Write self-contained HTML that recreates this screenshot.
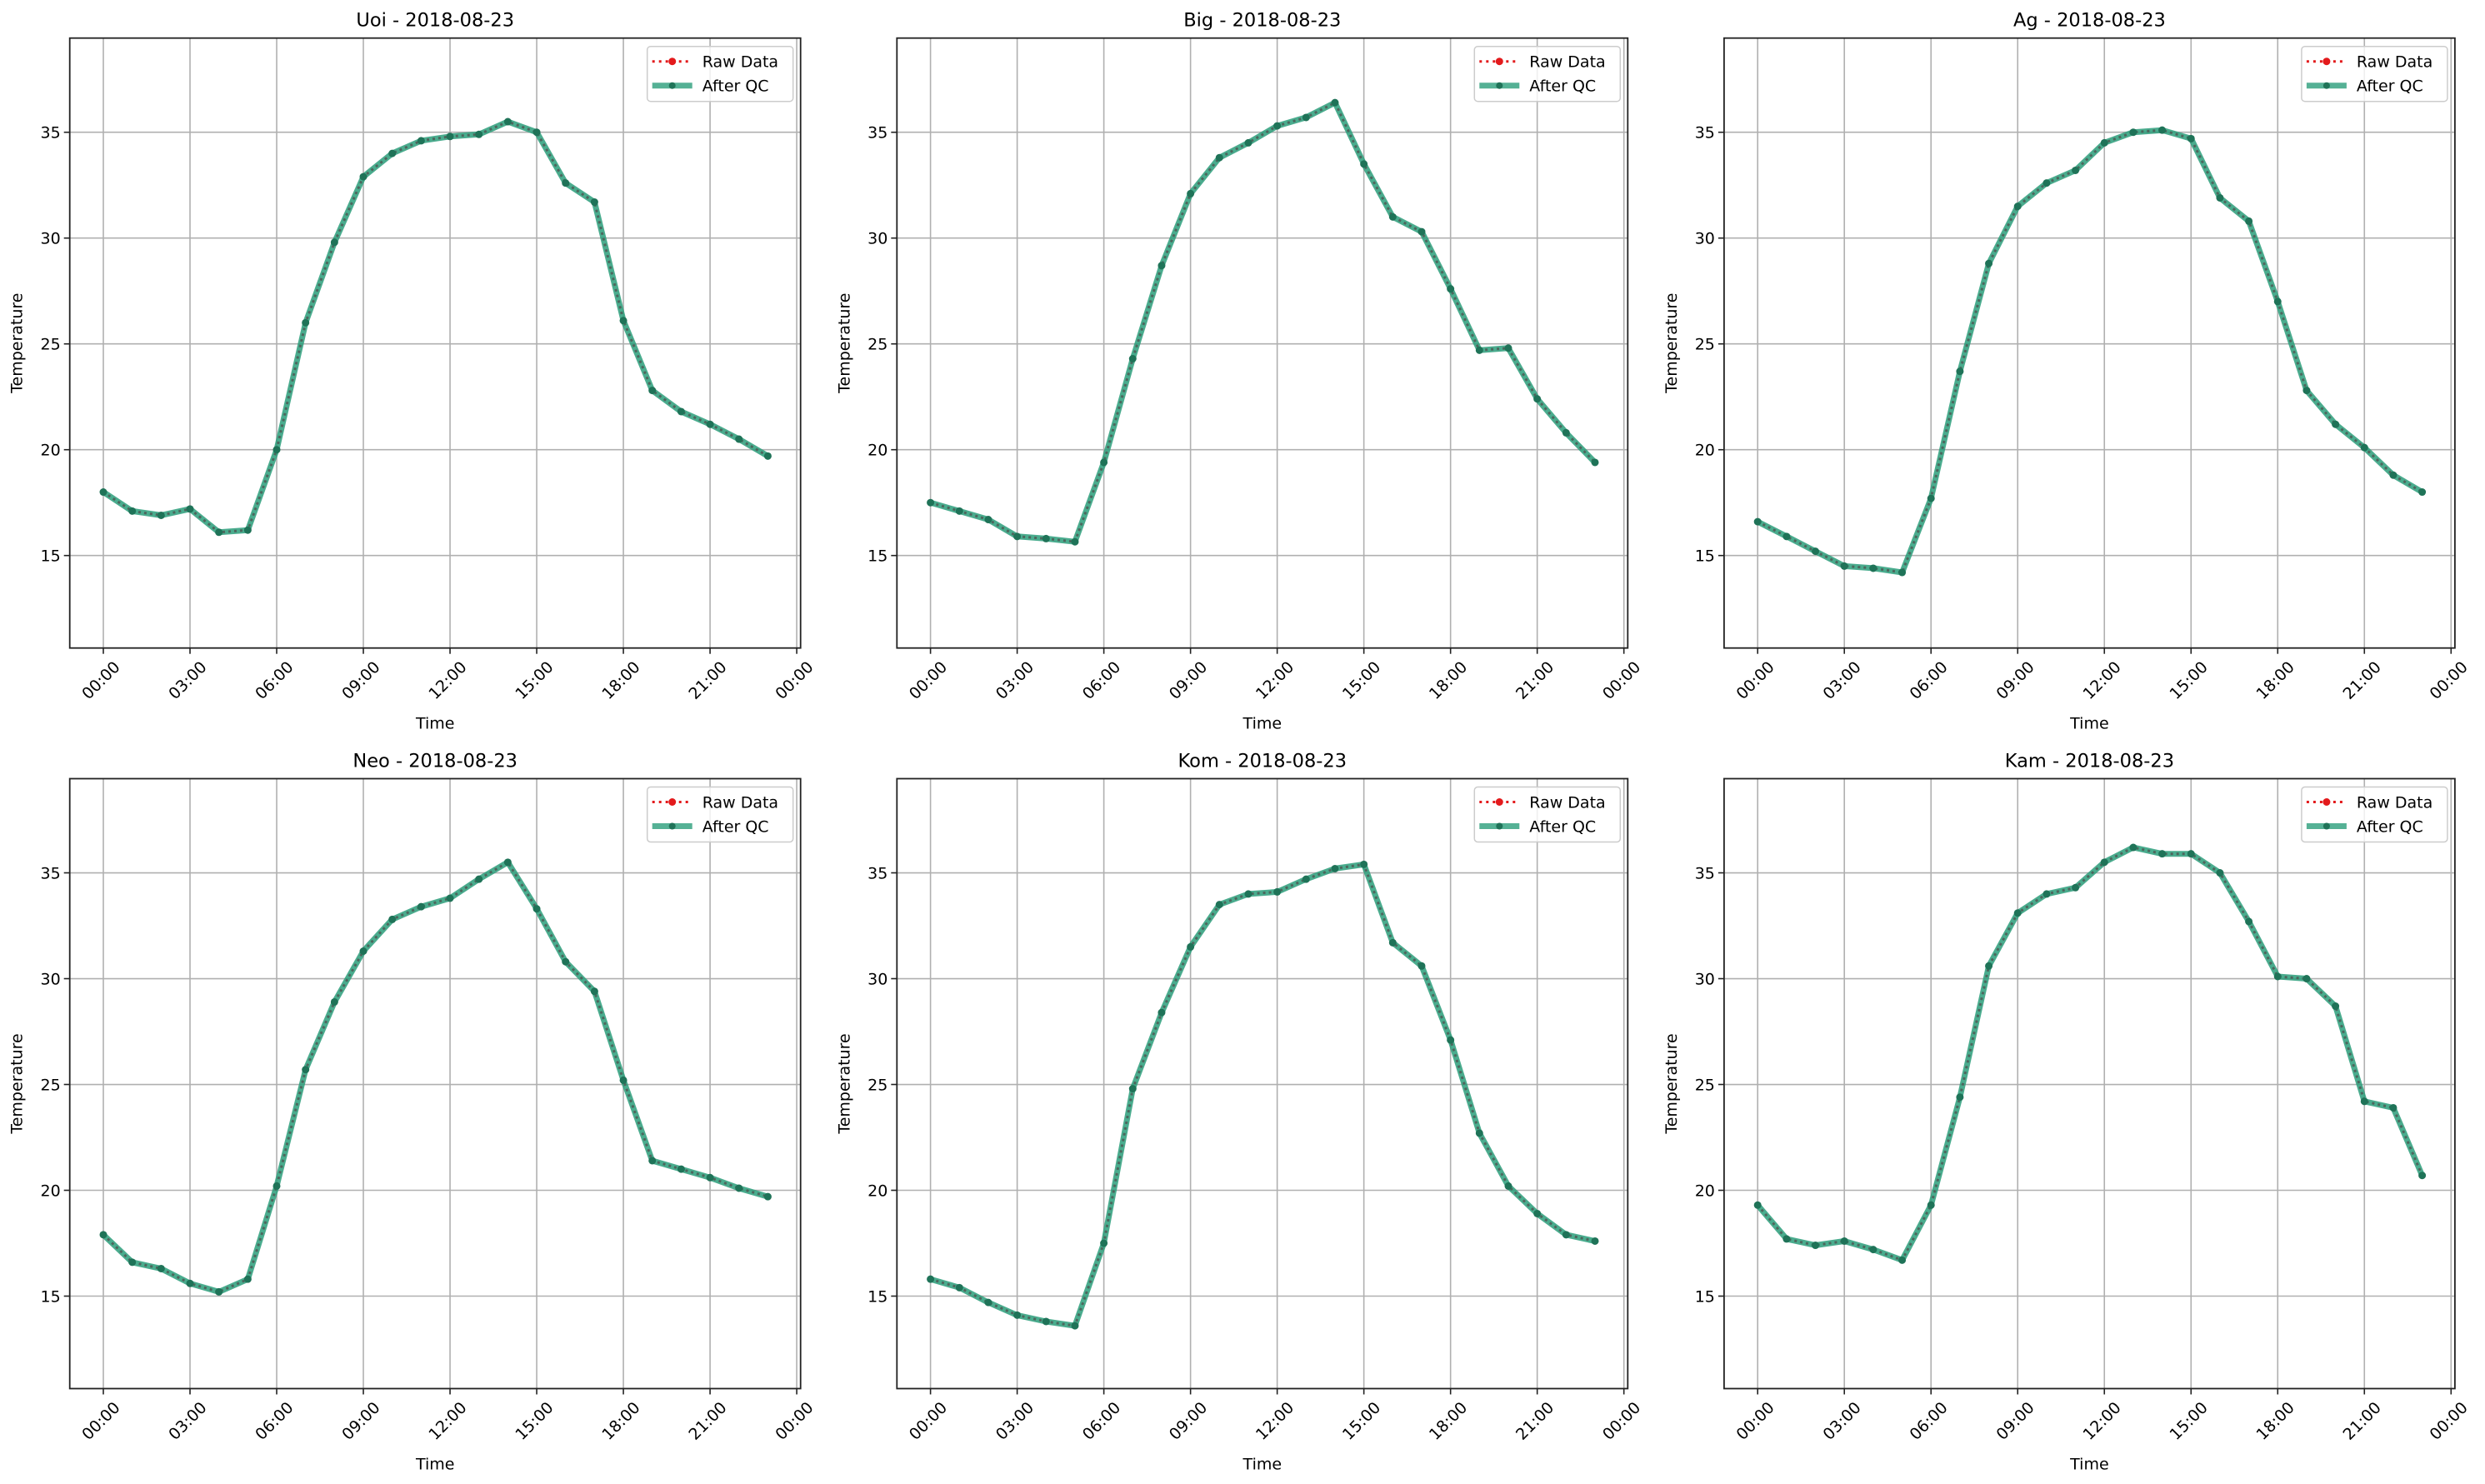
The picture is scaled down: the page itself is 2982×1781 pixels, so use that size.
<!DOCTYPE html>
<html><head><meta charset="utf-8"><style>
html,body{margin:0;padding:0;background:#fff}
svg{display:block}
text{font-family:"DejaVu Sans","Liberation Sans",sans-serif;fill:#000}
</style></head><body>
<svg id="s" width="2982" height="1781" viewBox="0 0 2982 1781" xmlns="http://www.w3.org/2000/svg"></svg>
<script>
const D=[
["Uoi",[18.0,17.1,16.9,17.2,16.1,16.2,20.0,26.0,29.8,32.9,34.0,34.6,34.8,34.9,35.5,35.0,32.6,31.7,26.1,22.8,21.8,21.2,20.5,19.7]],
["Big",[17.5,17.1,16.7,15.9,15.8,15.65,19.4,24.3,28.7,32.1,33.8,34.5,35.3,35.7,36.4,33.5,31.0,30.3,27.6,24.7,24.8,22.4,20.8,19.4]],
["Ag",[16.6,15.9,15.2,14.5,14.4,14.2,17.7,23.7,28.8,31.5,32.6,33.2,34.5,35.0,35.1,34.7,31.9,30.8,27.0,22.8,21.2,20.1,18.8,18.0]],
["Neo",[17.9,16.6,16.3,15.6,15.2,15.8,20.2,25.7,28.9,31.3,32.8,33.4,33.8,34.7,35.5,33.3,30.8,29.4,25.2,21.4,21.0,20.6,20.1,19.7]],
["Kom",[15.8,15.4,14.7,14.1,13.8,13.6,17.5,24.8,28.4,31.5,33.5,34.0,34.1,34.7,35.2,35.4,31.7,30.6,27.1,22.7,20.2,18.9,17.9,17.6]],
["Kam",[19.3,17.7,17.4,17.6,17.2,16.7,19.3,24.4,30.6,33.1,34.0,34.3,35.5,36.2,35.9,35.9,35.0,32.7,30.1,30.0,28.7,24.2,23.9,20.7]]
];
let h='';
const W=877,Y0=[45.7,934.5],H=732,ymax=39.45,ymin=10.63,ppu=H/(ymax-ymin);
const GREEN='#2a9d7a';
D.forEach((d,i)=>{
 const c=i%3,r=Math.floor(i/3);
 const L=83.7+c*992.6,T=Y0[r],B=T+H,R=L+W;
 const X=t=>L+40.3+t*34.67, Y=v=>T+(ymax-v)*ppu;
 for(let t=0;t<=24;t+=3){const x=X(t);h+=`<line x1="${x}" y1="${T}" x2="${x}" y2="${B}" stroke="#b0b0b0" stroke-width="1.6"/>`;
  h+=`<line x1="${x}" y1="${B}" x2="${x}" y2="${B+7}" stroke="#222" stroke-width="1.6"/>`;
  const lab=String(t%24).padStart(2,'0')+':00';
  h+=`<text x="0" y="0" font-size="19" text-anchor="end" transform="translate(${x+21},${B+24}) rotate(-45)">${lab}</text>`;}
 for(let v=15;v<=35;v+=5){const y=Y(v);h+=`<line x1="${L}" y1="${y}" x2="${R}" y2="${y}" stroke="#b0b0b0" stroke-width="1.6"/>`;
  h+=`<line x1="${L-7}" y1="${y}" x2="${L}" y2="${y}" stroke="#222" stroke-width="1.6"/>`;
  h+=`<text x="${L-11}" y="${y+7}" font-size="19" text-anchor="end">${v}</text>`;}
 const pts=d[1].map((v,k)=>X(k).toFixed(1)+','+Y(v).toFixed(1)).join(' ');
 h+=`<polyline points="${pts}" fill="none" stroke="${GREEN}" stroke-opacity="0.85" stroke-width="7" stroke-linejoin="round"/>`;
 h+=`<polyline points="${pts}" fill="none" stroke="#4d5f58" stroke-width="3" stroke-dasharray="3,4" stroke-opacity="0.9"/>`;
 d[1].forEach((v,k)=>{h+=`<circle cx="${X(k)}" cy="${Y(v)}" r="4.5" fill="#1f7358"/>`;});
 h+=`<rect x="${L}" y="${T}" width="${W}" height="${H}" fill="none" stroke="#222" stroke-width="1.8"/>`;
 const lx=R-184,ly=T+10;
 h+=`<rect x="${lx}" y="${ly}" width="175" height="66" rx="4" fill="#fff" fill-opacity="0.8" stroke="#ccc" stroke-width="1.5"/>`;
 h+=`<line x1="${lx+6}" y1="${ly+18}" x2="${lx+54}" y2="${ly+18}" stroke="#e31a1c" stroke-width="3" stroke-dasharray="3,5"/>`;
 h+=`<circle cx="${lx+30}" cy="${ly+18}" r="4.5" fill="#e31a1c"/>`;
 h+=`<text x="${lx+66}" y="${ly+25}" font-size="19">Raw Data</text>`;
 h+=`<line x1="${lx+6}" y1="${ly+47}" x2="${lx+54}" y2="${ly+47}" stroke="${GREEN}" stroke-opacity="0.8" stroke-width="7"/>`;
 h+=`<circle cx="${lx+30}" cy="${ly+47}" r="4" fill="#1f7358"/>`;
 h+=`<text x="${lx+66}" y="${ly+54}" font-size="19">After QC</text>`;
 h+=`<text x="${L+W/2}" y="${T-14}" font-size="22.5" text-anchor="middle">${d[0]} - 2018-08-23</text>`;
 h+=`<text x="${L+W/2}" y="${B+97}" font-size="19" text-anchor="middle">Time</text>`;
 h+=`<text x="0" y="0" font-size="19" text-anchor="middle" transform="translate(${L-57},${T+H/2}) rotate(-90)">Temperature</text>`;
});
document.getElementById('s').innerHTML=h;
</script>
</body></html>
